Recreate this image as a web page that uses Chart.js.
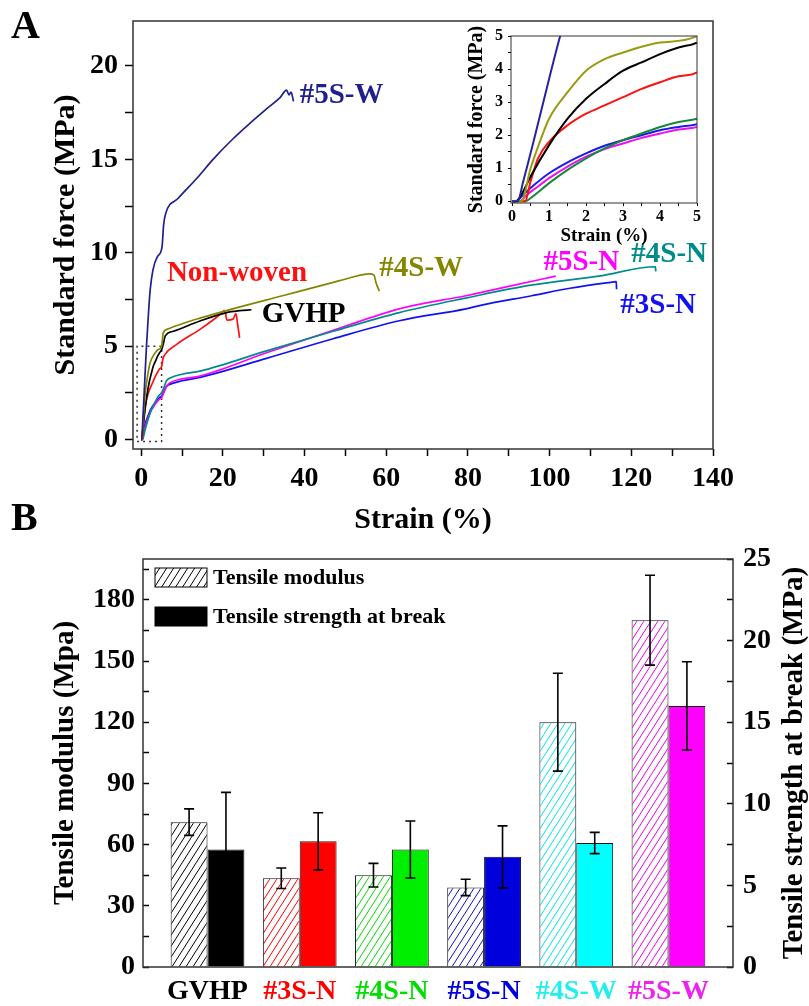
<!DOCTYPE html>
<html>
<head>
<meta charset="utf-8">
<script src="https://cdn.jsdelivr.net/npm/chart.js@4.4.1/dist/chart.umd.min.js"></script>
<style>
  html, body { margin: 0; padding: 0; background: #fff; }
  #wrap { position: relative; width: 809px; height: 1006px; }
  canvas { position: absolute; }
  #tensile { left: 0; top: 0; }
  #bars { left: 0; top: 500px; }
  #inset { left: 440px; top: 20px; }
</style>
</head>
<body>
<div id="wrap">
  <canvas id="tensile" width="809" height="540"></canvas>
  <canvas id="bars" width="809" height="506"></canvas>
  <canvas id="inset" width="270" height="235"></canvas>
</div>
<script>
// ---- stress-strain curves: [strain %, stress MPa] ----
const curve5SW = [[0,0],[0.15,0],[0.3,0.6],[0.6,1.9],[1.0,3.7],[1.3,5.0],[1.8,6.8],[2.2,8.0],[2.9,9.1],[4,9.8],[5.1,10.3],[5.5,11.5],[6,12.1],[9,12.9],[13.7,14.0],[17.6,15.0],[22.5,16.1],[27,17.0],[30.7,17.7],[34,18.3],[35.6,18.7],[36.2,18.45],[36.7,18.6],[37.3,18.1]];
const curve4SW = [[0,0],[0.25,0],[0.5,1.0],[0.75,1.8],[1,2.5],[1.5,3.3],[2,3.95],[2.5,4.3],[3,4.5],[4,4.8],[5,5.0],[5.4,5.7],[6.3,5.9],[10,6.2],[14.4,6.5],[22.4,7.0],[34.6,7.7],[46.8,8.4],[51,8.65],[55.8,8.87],[57,8.8],[57.5,8.4],[58.3,7.95]];
const curveGVHP = [[0,0],[0.1,0],[0.3,0.3],[0.5,0.75],[1,1.7],[1.5,2.5],[2,3.1],[2.5,3.55],[3,3.95],[3.5,4.2],[4,4.45],[4.5,4.65],[5,4.8],[5.4,5.1],[5.9,5.55],[7.9,5.8],[14.4,6.35],[20.9,6.8],[24.1,6.9],[27,6.95]];
const curveNonWoven = [[0,0],[0.35,0],[0.5,0.6],[0.7,1.3],[1,1.8],[1.5,2.3],[2,2.65],[2.5,2.9],[3,3.15],[3.5,3.4],[4,3.6],[4.5,3.78],[5,3.9],[5.3,4.3],[5.8,4.55],[8.7,5.1],[14.4,5.9],[18.5,6.55],[20.5,6.9],[21,6.4],[22.5,6.45],[23.2,6.75],[23.6,6.2],[24.1,5.45]];
const curve4SN = [[0,0],[0.35,0],[0.5,0.1],[1,0.55],[1.5,0.95],[2,1.3],[2.5,1.6],[3,1.85],[3.5,2.05],[4,2.25],[4.5,2.4],[5,2.5],[5.5,2.75],[6.2,3.15],[7.1,3.3],[10,3.5],[14.4,3.67],[30.7,4.75],[47,5.8],[63.2,6.8],[80,7.6],[95,8.25],[112,8.75],[125.9,9.25],[126,9.0]];
const curve5SN = [[0,0],[0.2,0],[0.4,0.2],[0.7,0.45],[1,0.7],[1.5,1.05],[2,1.35],[2.5,1.58],[3,1.75],[3.5,1.92],[4,2.05],[4.5,2.17],[5,2.25],[5.5,2.5],[6.2,2.85],[7.1,3.05],[10,3.25],[14.4,3.4],[30.7,4.65],[47,5.85],[63.2,7.0],[79.5,7.7],[90,8.2],[101.5,8.75]];
const curve3SN = [[0,0],[0.1,0],[0.3,0.2],[0.6,0.5],[1,0.85],[1.5,1.18],[2,1.45],[2.5,1.68],[3,1.85],[3.5,2.0],[4,2.15],[4.5,2.25],[5,2.33],[5.5,2.55],[6.2,2.85],[7.1,2.97],[10,3.15],[14.4,3.33],[30.7,4.35],[47,5.4],[63.2,6.36],[79.5,7.0],[83.4,7.2],[95.6,7.7],[105,8.1],[114.4,8.4],[116.3,8.45],[116.4,8.05]];
// dotted outline of the zoomed region shown in the inset
const zoomBox = [[-1,-0.1],[5,-0.1],[5,5],[-1,5],[-1,-0.1]];

// ---- bar panel ----
const groups = ['GVHP', '#3S-N', '#4S-N', '#5S-N', '#4S-W', '#5S-W'];
const modulus = [71, 43.5, 45, 39, 120, 170];
const modulusErr = [6.5, 5, 5.8, 4, 24, 22];
const strength = [7.2, 7.7, 7.2, 6.75, 7.6, 16];
const strengthErr = [3.5, 1.75, 1.75, 1.9, 0.65, 2.7];

const serif = "'Liberation Serif', 'Times New Roman', serif";
Chart.defaults.font.family = serif;
Chart.defaults.font.weight = 'bold';
Chart.defaults.color = '#000';

const navy = '#1f1f8f', olive = '#858500', red = '#ff1010', teal = '#008b8b',
      magenta = '#ff00ff', blue = '#1212f0';

const curves = [
  {label: '#5S-W', points: curve5SW, color: navy, inset: '#2424a0'},
  {label: '#4S-W', points: curve4SW, color: olive, inset: '#9a9a10'},
  {label: 'GVHP', points: curveGVHP, color: '#000', inset: '#000'},
  {label: 'Non-woven', points: curveNonWoven, color: red, inset: red},
  {label: '#4S-N', points: curve4SN, color: teal, inset: '#15893a'},
  {label: '#5S-N', points: curve5SN, color: magenta, inset: '#ee10ee'},
  {label: '#3S-N', points: curve3SN, color: blue, inset: '#1a1aee'}
];

const curveTags = [
  {text: '#5S-W', x: 38.8, y: 18.4, color: navy},
  {text: 'Non-woven', x: 6.3, y: 8.9, color: red},
  {text: 'GVHP', x: 29.5, y: 6.7, color: '#000'},
  {text: '#4S-W', x: 58.3, y: 9.15, color: olive},
  {text: '#5S-N', x: 98.5, y: 9.5, color: magenta},
  {text: '#4S-N', x: 120, y: 9.9, color: teal},
  {text: '#3S-N', x: 117.3, y: 7.2, color: blue}
];

const toXY = pts => pts.map(([x, y]) => ({x, y}));

// pin an axis box to a fixed size so the plot area lands where we want it
function fixedBox(size) {
  return function (scale) {
    if (scale.isHorizontal()) scale.height = size; else scale.width = size;
    scale.paddingTop = 0; scale.paddingBottom = 0;
    scale.paddingLeft = 0; scale.paddingRight = 0;
  };
}

const framePlugin = {
  id: 'frame',
  afterDatasetsDraw(chart, args, opts) {
    const {ctx, chartArea: a} = chart;
    ctx.save();
    ctx.lineWidth = opts.width || 1.5;
    ctx.strokeStyle = opts.color || '#222';
    ctx.strokeRect(a.left, a.top, a.right - a.left, a.bottom - a.top);
    ctx.restore();
  }
};

const letterPlugin = {
  id: 'panelLetter',
  afterDraw(chart, args, opts) {
    const {ctx} = chart;
    ctx.save();
    ctx.font = 'bold 40px ' + serif;
    ctx.fillStyle = '#000';
    ctx.textBaseline = 'middle';
    ctx.fillText(opts.text, opts.x, opts.y);
    ctx.restore();
  }
};

const tagPlugin = {
  id: 'curveTags',
  afterDatasetsDraw(chart) {
    const {ctx, scales: {x, y}} = chart;
    ctx.save();
    ctx.font = 'bold 29px ' + serif;
    ctx.textBaseline = 'middle';
    curveTags.forEach(t => {
      ctx.fillStyle = t.color;
      ctx.fillText(t.text, x.getPixelForValue(t.x), y.getPixelForValue(t.y));
    });
    ctx.restore();
  }
};

// ---------------- panel A ----------------
new Chart(document.getElementById('tensile'), {
  type: 'line',
  data: {
    datasets: curves.map(c => ({
      label: c.label,
      data: toXY(c.points),
      borderColor: c.color,
      borderWidth: 1.7,
      pointRadius: 0,
      cubicInterpolationMode: 'monotone',
      fill: false
    })).concat([{
      label: 'zoom',
      data: toXY(zoomBox),
      borderColor: '#333',
      borderWidth: 1.5,
      borderDash: [2, 4],
      pointRadius: 0,
      tension: 0,
      fill: false
    }])
  },
  options: {
    responsive: false,
    animation: false,
    devicePixelRatio: 1,
    layout: {padding: {top: 21, right: 96, left: 0, bottom: 0}},
    plugins: {
      legend: {display: false},
      tooltip: {enabled: false},
      frame: {width: 1.5, color: '#333'},
      panelLetter: {text: 'A', x: 11, y: 28}
    },
    scales: {
      x: {
        type: 'linear', min: -2, max: 140,
        afterFit: fixedBox(91),
        border: {display: false},
        grid: {drawOnChartArea: false, tickLength: 7, tickColor: '#000', tickWidth: 1.5},
        ticks: {
          stepSize: 10, includeBounds: false, autoSkip: false, maxRotation: 0,
          padding: 6, font: {size: 28},
          callback: v => (v % 20 === 0 ? String(v) : '')
        },
        title: {display: true, text: 'Strain (%)', font: {size: 30}, padding: {top: 0, bottom: 2}}
      },
      y: {
        type: 'linear', min: -0.5, max: 22.4,
        afterFit: fixedBox(133),
        border: {display: false},
        grid: {drawOnChartArea: false, tickLength: 8, tickColor: '#000', tickWidth: 1.5},
        ticks: {
          stepSize: 2.5, includeBounds: false, autoSkip: false,
          padding: 7, font: {size: 28},
          callback: v => (v % 5 === 0 ? String(v) : '')
        },
        title: {display: true, text: 'Standard force (MPa)', font: {size: 30}, padding: {top: 48, bottom: 0}}
      }
    }
  },
  plugins: [framePlugin, letterPlugin, tagPlugin]
});

// ---------------- inset of panel A ----------------
new Chart(document.getElementById('inset'), {
  type: 'line',
  data: {
    datasets: curves.map(c => ({
      label: c.label,
      data: toXY(c.points),
      borderColor: c.inset,
      borderWidth: 2,
      pointRadius: 0,
      cubicInterpolationMode: 'monotone',
      fill: false
    }))
  },
  options: {
    responsive: false,
    animation: false,
    devicePixelRatio: 1,
    layout: {padding: {top: 16, right: 13, left: 0, bottom: 0}},
    plugins: {
      legend: {display: false},
      tooltip: {enabled: false},
      frame: {width: 1, color: '#333'}
    },
    scales: {
      x: {
        type: 'linear', min: -0.03, max: 5,
        afterFit: fixedBox(52),
        border: {display: false},
        grid: {drawOnChartArea: false, tickLength: 3, tickColor: '#000', tickWidth: 1},
        ticks: {
          stepSize: 0.5, includeBounds: false, autoSkip: false, maxRotation: 0,
          padding: 1.5, font: {size: 16},
          callback: v => (Number.isInteger(v) ? String(v) : '')
        },
        title: {display: true, text: 'Strain (%)', font: {size: 19}, padding: {top: 0, bottom: 7.6}}
      },
      y: {
        type: 'linear', min: -0.05, max: 5,
        afterFit: fixedBox(71),
        border: {display: false},
        grid: {drawOnChartArea: false, tickLength: 3, tickColor: '#000', tickWidth: 1},
        ticks: {
          stepSize: 0.5, includeBounds: false, autoSkip: false,
          padding: 5, font: {size: 16},
          callback: v => (Number.isInteger(v) ? String(v) : '')
        },
        title: {display: true, text: 'Standard force (MPa)', font: {size: 20}, padding: {top: 25, bottom: 0}}
      }
    }
  },
  plugins: [framePlugin]
});

// ---------------- panel B ----------------
const barCtx = document.getElementById('bars').getContext('2d');
const hatchColors = ['#000', '#ff0000', '#00dd00', '#1010cc', '#00e5e5', '#ee00ee'];
const fillColors = ['#000', '#ff0000', '#00ee00', '#0000dd', '#00ffff', '#ff00ff'];
const labelColors = ['#000', '#ff0000', '#00dd00', '#0000dd', '#22eeee', '#ee22ee'];

function hatch(color) {
  const c = document.createElement('canvas');
  c.width = 7; c.height = 11;
  const g = c.getContext('2d');
  g.fillStyle = '#fff';
  g.fillRect(0, 0, 7, 11);
  g.strokeStyle = color;
  g.lineWidth = 1;
  g.beginPath();
  g.moveTo(0, 11); g.lineTo(7, 0);
  g.moveTo(-1, 1.6); g.lineTo(1, -1.6);
  g.moveTo(6, 12.6); g.lineTo(8, 9.4);
  g.stroke();
  return barCtx.createPattern(c, 'repeat');
}

const errorBarPlugin = {
  id: 'errorBars',
  afterDatasetsDraw(chart) {
    const {ctx} = chart;
    ctx.save();
    ctx.strokeStyle = '#000';
    ctx.lineWidth = 1.6;
    chart.data.datasets.forEach((ds, di) => {
      const meta = chart.getDatasetMeta(di);
      const scale = chart.scales[meta.yAxisID];
      meta.data.forEach((bar, i) => {
        const v = ds.data[i].y, e = ds.errors[i];
        const top = scale.getPixelForValue(v + e);
        const bottom = scale.getPixelForValue(v - e);
        ctx.beginPath();
        ctx.moveTo(bar.x, top); ctx.lineTo(bar.x, bottom);
        ctx.moveTo(bar.x - 5, top); ctx.lineTo(bar.x + 5, top);
        ctx.moveTo(bar.x - 5, bottom); ctx.lineTo(bar.x + 5, bottom);
        ctx.stroke();
      });
    });
    ctx.restore();
  }
};

// legend drawn inside the plot, top-left
const barLegendPlugin = {
  id: 'barLegend',
  afterDraw(chart) {
    const {ctx, chartArea: a} = chart;
    const swatches = [hatch('#000'), '#000'];
    ctx.save();
    ctx.font = 'bold 22px ' + serif;
    ctx.textBaseline = 'middle';
    chart.data.datasets.forEach((ds, i) => {
      const top = a.top + 9 + i * 39;
      ctx.fillStyle = swatches[i];
      ctx.fillRect(a.left + 12, top, 52, 19);
      ctx.strokeStyle = '#000';
      ctx.lineWidth = 1;
      ctx.strokeRect(a.left + 12, top, 52, 19);
      ctx.fillStyle = '#000';
      ctx.fillText(ds.label, a.left + 70, top + 10);
    });
    ctx.restore();
  }
};

// right-hand title reads bottom-to-top like the left one
const rightTitlePlugin = {
  id: 'rightTitle',
  afterDraw(chart, args, opts) {
    const {ctx} = chart;
    const s = chart.scales.y1;
    ctx.save();
    ctx.translate(opts.x, (s.top + s.bottom) / 2);
    ctx.rotate(-Math.PI / 2);
    ctx.font = 'bold 29px ' + serif;
    ctx.fillStyle = '#000';
    ctx.textAlign = 'center';
    ctx.textBaseline = 'middle';
    ctx.fillText(opts.text, 0, 0);
    ctx.restore();
  }
};

new Chart(barCtx, {
  type: 'bar',
  data: {
    datasets: [{
      label: 'Tensile modulus',
      data: modulus.map((v, i) => ({x: i, y: v})),
      errors: modulusErr,
      yAxisID: 'y',
      backgroundColor: hatchColors.map(hatch),
      borderColor: '#111',
      borderWidth: 1
    }, {
      label: 'Tensile strength at break',
      data: strength.map((v, i) => ({x: i, y: v})),
      errors: strengthErr,
      yAxisID: 'y1',
      backgroundColor: fillColors,
      borderColor: '#111',
      borderWidth: 1
    }]
  },
  options: {
    responsive: false,
    animation: false,
    devicePixelRatio: 1,
    categoryPercentage: 0.8,
    barPercentage: 1.0,
    layout: {padding: {top: 59, right: 0, left: 0, bottom: 0}},
    plugins: {
      legend: {display: false},
      tooltip: {enabled: false},
      frame: {width: 1.5, color: '#333'},
      panelLetter: {text: 'B', x: 11, y: 20},
      rightTitle: {text: 'Tensile strength at break (MPa)', x: 795}
    },
    scales: {
      x: {
        type: 'linear', min: -0.7, max: 5.7, offset: false,
        afterFit: fixedBox(39),
        afterBuildTicks: s => { s.ticks = groups.map((_, i) => ({value: i})); },
        border: {display: false},
        grid: {display: false, drawTicks: false, offset: false},
        ticks: {
          autoSkip: false, maxRotation: 0, padding: 8, font: {size: 28},
          callback: v => groups[v],
          color: c => labelColors[c.index]
        }
      },
      y: {
        type: 'linear', position: 'left', min: 0, max: 200,
        afterFit: fixedBox(143),
        border: {display: false},
        grid: {drawOnChartArea: false, tickLength: -6, tickColor: '#000', tickWidth: 1.5},
        ticks: {
          stepSize: 15, includeBounds: false, autoSkip: false,
          padding: 14, font: {size: 28},
          callback: v => (v % 30 === 0 ? String(v) : '')
        },
        title: {display: true, text: 'Tensile modulus (Mpa)', font: {size: 29}, padding: {top: 48.6, bottom: 0}}
      },
      y1: {
        type: 'linear', position: 'right', min: 0, max: 25,
        afterFit: fixedBox(76),
        border: {display: false},
        grid: {drawOnChartArea: false, tickLength: -6, tickColor: '#000', tickWidth: 1.5},
        ticks: {
          stepSize: 2.5, includeBounds: false, autoSkip: false,
          padding: 16, font: {size: 28},
          callback: v => (v % 5 === 0 ? String(v) : '')
        }
      }
    }
  },
  plugins: [framePlugin, errorBarPlugin, barLegendPlugin, letterPlugin, rightTitlePlugin]
});
</script>
</body>
</html>
